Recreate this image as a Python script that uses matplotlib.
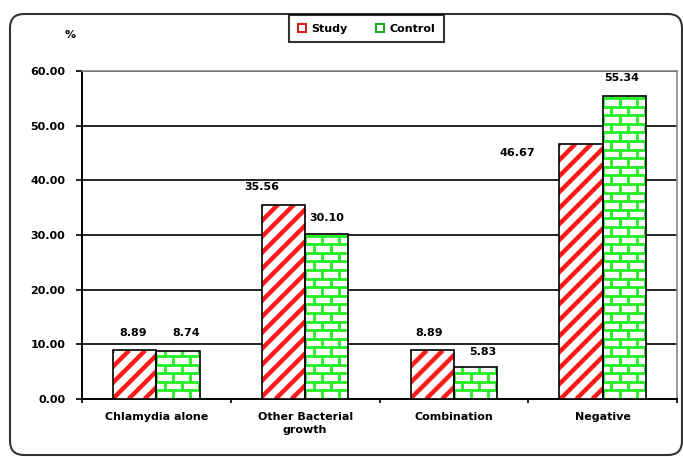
import numpy as np
import matplotlib
matplotlib.use("Agg")
import matplotlib.pyplot as plt
from matplotlib.patches import Patch, FancyBboxPatch
from matplotlib.collections import LineCollection
from matplotlib.transforms import IdentityTransform

# percentages per group (study n=45, control n=103)
categories = ["Chlamydia alone", "Other Bacterial\ngrowth", "Combination", "Negative"]
study = [8.89, 35.56, 8.89, 46.67]
control = [8.74, 30.10, 5.83, 55.34]
y_ticks = [0, 10, 20, 30, 40, 50, 60]

plt.rcParams['font.family'] = 'DejaVu Sans'
plt.rcParams['font.weight'] = 'bold'

fig = plt.figure(figsize=(6.83, 4.57), dpi=100)
ax = fig.add_axes([82 / 683, 1 - 399 / 457, 595 / 683, 328 / 457])

x = np.arange(len(categories))
w = 0.29
ax.set_xlim(-0.5, len(categories) - 0.5)
ax.set_ylim(0, 60)

# pixel scale of the data axes, used to keep the fill textures square
px_x = 595 / len(categories)
px_y = 328 / 60


def stripes(rect, step_px=16):
    # red 45-degree stripes clipped to the bar
    x0, bw, h = rect.get_x(), rect.get_width(), rect.get_height()
    slope = px_x / px_y
    step = step_px / px_x
    span = h / slope
    segs = []
    c = x0 - span
    while c < x0 + bw:
        segs.append([(c, 0), (c + span, h)])
        c += step
    lc = LineCollection(segs, colors='#ff1a1a', linewidths=3.2, zorder=4)
    ax.add_collection(lc)
    lc.set_clip_path(rect)


def bricks(rect, row_px=8.6, brick_px=17):
    # green brick mortar clipped to the bar
    x0, bw, h = rect.get_x(), rect.get_width(), rect.get_height()
    row_h = row_px / px_y
    brick_w = brick_px / px_x
    segs = []
    k = 0
    while k * row_h < h:
        y0 = k * row_h
        segs.append([(x0, y0), (x0 + bw, y0)])
        off = 0.0 if k % 2 == 0 else brick_w / 2
        xv = x0 + off
        while xv < x0 + bw:
            segs.append([(xv, y0), (xv, y0 + row_h)])
            xv += brick_w
        k += 1
    lc = LineCollection(segs, colors='#22ee22', linewidths=2.0, zorder=4)
    ax.add_collection(lc)
    lc.set_clip_path(rect)


sbars = ax.bar(x - w / 2, study, w, color='white', linewidth=0, zorder=3)
cbars = ax.bar(x + w / 2, control, w, color='white', linewidth=0, zorder=3)
for r in sbars:
    stripes(r)
for r in cbars:
    bricks(r)
# outlines over the textures
ax.bar(x - w / 2, study, w, color='none', edgecolor='black', linewidth=1.2, zorder=5)
ax.bar(x + w / 2, control, w, color='none', edgecolor='black', linewidth=1.2, zorder=5)

# value labels
study_off = [(-2, 17), (-22, 18), (-3, 17), (-64, -9)]
control_off = [(8, 18), (0, 16), (7, 15), (-3, 18)]
for i in range(len(categories)):
    ax.annotate(f"{study[i]:.2f}", (x[i] - w / 2, study[i]), xytext=study_off[i],
                textcoords='offset pixels', ha='center', va='center', fontsize=8, zorder=6)
    ax.annotate(f"{control[i]:.2f}", (x[i] + w / 2, control[i]), xytext=control_off[i],
                textcoords='offset pixels', ha='center', va='center', fontsize=8, zorder=6)

ax.set_yticks(y_ticks)
ax.set_yticklabels([f"{v:.2f}" for v in y_ticks], fontsize=8)
ax.set_xticks(x)
ax.set_xticklabels(categories, fontsize=8, linespacing=1.45)
ax.set_xticks(np.arange(len(categories) + 1) - 0.5, minor=True)
ax.tick_params(axis='x', which='major', length=0, pad=9)
ax.tick_params(axis='x', which='minor', length=3, width=1.2, direction='out')
ax.tick_params(axis='y', length=4, width=1.2, pad=8)

ax.yaxis.grid(True, color='black', linewidth=1.2, zorder=0)
ax.set_axisbelow(True)
for s in ['left', 'bottom']:
    ax.spines[s].set_color('black')
    ax.spines[s].set_linewidth(1.4)
for s in ['top', 'right']:
    ax.spines[s].set_color('#888888')
    ax.spines[s].set_linewidth(1.2)

fig.text(70 / 683, 1 - 35 / 457, '%', fontsize=8, ha='center', va='center')

handles = [Patch(facecolor='white', edgecolor='#cc2222', linewidth=1.5, label='Study'),
           Patch(facecolor='white', edgecolor='#22aa22', linewidth=1.5, label='Control')]
leg = fig.legend(handles=handles, loc='center', bbox_to_anchor=(366.5 / 683, 1 - 28.5 / 457),
                 ncol=2, fontsize=8, frameon=True, fancybox=False, handlelength=0.7,
                 handleheight=0.7, handletextpad=0.5, columnspacing=2.6,
                 borderpad=0.8, borderaxespad=0, edgecolor='black')
leg.get_frame().set_linewidth(1.5)

# rounded border around the whole chart
border = FancyBboxPatch((10, 2), 672, 441, boxstyle="round,pad=0,rounding_size=14",
                        transform=IdentityTransform(), facecolor='none',
                        edgecolor='#333333', linewidth=1.5, zorder=0)
fig.patches.append(border)

fig.savefig('out.png', dpi=100)
